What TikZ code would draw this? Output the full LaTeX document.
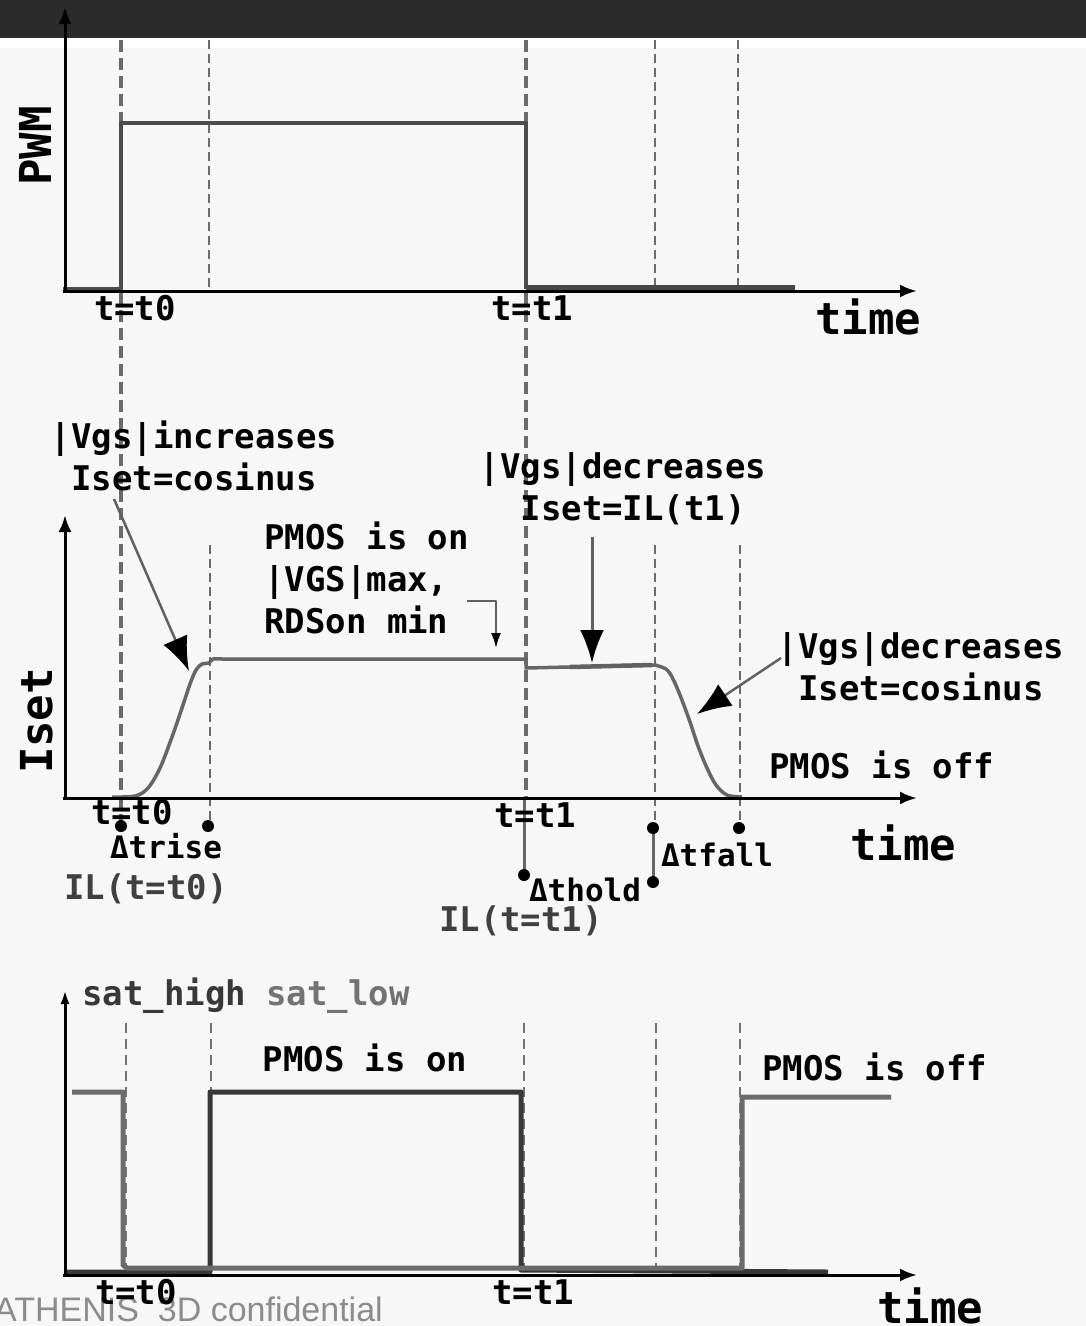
\documentclass[tikz,border=0pt]{standalone}
\usepackage{fontspec}
\setmainfont{Liberation Sans}
\setmonofont{DejaVu Sans Mono}
\usetikzlibrary{arrows.meta,calc}

\begin{document}
\begin{tikzpicture}[x=1pt, y=-1pt, line join=round,
    lbl/.style={font=\ttfamily\bfseries\fontsize{34}{42}\selectfont, inner sep=0pt},
    biglbl/.style={font=\ttfamily\bfseries\fontsize{44}{50}\selectfont, inner sep=0pt},
    dlbl/.style={font=\ttfamily\bfseries\fontsize{31}{38}\selectfont, inner sep=0pt},
    axis/.style={black, line width=3pt, -{Latex[length=17pt,width=13pt]}},
    guide/.style={black!58, line width=3.5pt, dash pattern=on 12pt off 6pt},
    thinguide/.style={black!58, line width=2pt, dash pattern=on 9pt off 5pt},
    callout/.style={black!62, line width=2.5pt, -{Latex[black,length=34pt,width=26pt]}},
    sig/.style={black!70, line width=4.5pt},
    isetline/.style={black!60, line width=3.5pt}]

  \useasboundingbox (0,0) rectangle (1086,1326);
  \fill[black!3] (0,0) rectangle (1086,1326);
  \fill[black!83] (0,0) rectangle (1086,38);
  \fill[white] (0,38) rectangle (1086,48);

  \draw[guide] (121,40) -- (121,826);
  \draw[guide] (526,40) -- (526,800);
  \foreach \gx in {209,655,738}
    \draw[thinguide] (\gx,40) -- (\gx,287);

  \draw[sig] (63,289) -- (121,289) -- (121,123) -- (526,123) -- (526,289);
  \draw[black!72, line width=6pt] (526,288) -- (795,288);
  \draw[axis] (65,291) -- (65,7);
  \draw[axis] (63,291) -- (917,291);
  \node[biglbl, rotate=90] (pwmlbl) at (35,146) {PWM};
  \node[lbl, anchor=base] (tzeroa) at (135,320) {t=t0};
  \node[lbl, anchor=base] (tonea) at (532,320) {t=t1};
  \node[biglbl, anchor=base] (timea) at (868,334) {time};

  \foreach \gx/\gy in {210/826,655/828,740/828}
    \draw[thinguide] (\gx,545) -- (\gx,\gy);
  \draw[black!60, line width=3pt] (524,800) -- (524,875);
  \draw[black!60, line width=3pt] (653,828) -- (653,882);
  \foreach \dx/\dy in {121/826,208/826,524/875,653/828,653/882,739/828}
    \fill (\dx,\dy) circle (6pt);

  \draw[isetline] plot[smooth, tension=0.55] coordinates {(112,797) (135,796) (148,788) (160,768) (172,737) (182,708) (190,684) (196,670) (202,664) (209,663) (213,659) (222,659)}
    -- (526,659) -- (526,668) -- (655,665)
    -- plot[smooth, tension=0.55] coordinates {(655,665) (666,669) (672,677) (680,695) (690,722) (698,746) (707,768) (716,785) (727,795) (742,797)};
  \draw[black!62, line width=4.5pt] (570,667) -- (652,665);
  \draw[axis] (65,798) -- (65,515);
  \draw[axis] (63,798) -- (917,798);

  \node[biglbl, rotate=90] (isetlbl) at (37,721) {Iset};
  \node[lbl, align=center, anchor=north] (incr) at (194,421) {|Vgs|increases\\Iset=cosinus};
  \node[lbl, align=left, anchor=north west] (pmoson) at (264,522) {PMOS is on\\|VGS|max,\\RDSon min};
  \node[lbl, align=center, anchor=north] (decrhold) at (623,452) {|Vgs|decreases\\\ Iset=IL(t1)};
  \node[lbl, align=center, anchor=north] (decrfall) at (921,632) {|Vgs|decreases\\Iset=cosinus};
  \node[lbl, anchor=base west] (pmosoff) at (769,778) {PMOS is off};
  \node[lbl, anchor=base] (tzerob) at (132,824) {t=t0};
  \node[lbl, anchor=base] (toneb) at (535,827) {t=t1};
  \node[biglbl, anchor=base] (timeb) at (903,860) {time};
  \node[dlbl, anchor=base] (trise) at (166,858) {Δtrise};
  \node[lbl, anchor=base, text=black!75] (ilzero) at (146,899) {IL(t=t0)};
  \node[dlbl, anchor=base] (thold) at (585,901) {Δthold};
  \node[lbl, anchor=base, text=black!75] (ilone) at (521,931) {IL(t=t1)};
  \node[dlbl, anchor=base] (tfall) at (717,866) {Δtfall};

  \coordinate (risetip) at (189,671);
  \coordinate (risefrom) at (114,499);
  \coordinate (holdtip) at (592,663);
  \coordinate (holdfrom) at (592,537);
  \coordinate (falltip) at (697,714);
  \coordinate (fallfrom) at (781,658);
  \coordinate (flattip) at (496,648);
  \coordinate (flatfrom) at (467,601);
  \draw[callout] (risefrom) -- (risetip);
  \draw[callout, line width=3pt, -{Latex[black,length=33pt,width=24pt]}] (holdfrom) -- (holdtip);
  \draw[callout] (fallfrom) -- (falltip);
  \draw[black!62, line width=2pt, -{Latex[black,length=15pt,width=10pt]}] (flatfrom) -| (flattip);

  \node[font=\fontsize{34}{40}\selectfont, text=black!45, anchor=base east, inner sep=0pt] (conf) at (383,1321) {ATHENIS\ \ 3D confidential};

  \foreach \gx in {126,211,524,656,740}
    \draw[black!55, line width=1.6pt, dash pattern=on 10pt off 6pt] (\gx,1023) -- (\gx,1268);
  \draw[black!78, line width=5pt] (65,1272) -- (210,1272) -- (210,1092) -- (521,1092) -- (521,1270) -- (828,1272);
  \draw[black!58, line width=5pt] (72,1092) -- (123,1092) -- (123,1265) -- (127,1268) -- (742,1268) -- (742,1097) -- (891,1097);
  \draw[axis, -{Latex[length=14pt,width=9pt]}] (65,1275) -- (65,990);
  \draw[axis] (63,1275) -- (917,1275);
  \node[lbl, anchor=base west] (satlbl) at (82,1005) {{\color{black!78}sat\_high} {\color{black!55}sat\_low}};
  \node[lbl, anchor=base] (pmosonc) at (365,1071) {PMOS is on};
  \node[lbl, anchor=base west] (pmosoffc) at (762,1080) {PMOS is off};
  \node[lbl, anchor=base] (tzeroc) at (136,1304) {t=t0};
  \node[lbl, anchor=base] (tonec) at (533,1304) {t=t1};
  \node[biglbl, anchor=base] (timec) at (930,1323) {time};
\end{tikzpicture}
\end{document}
